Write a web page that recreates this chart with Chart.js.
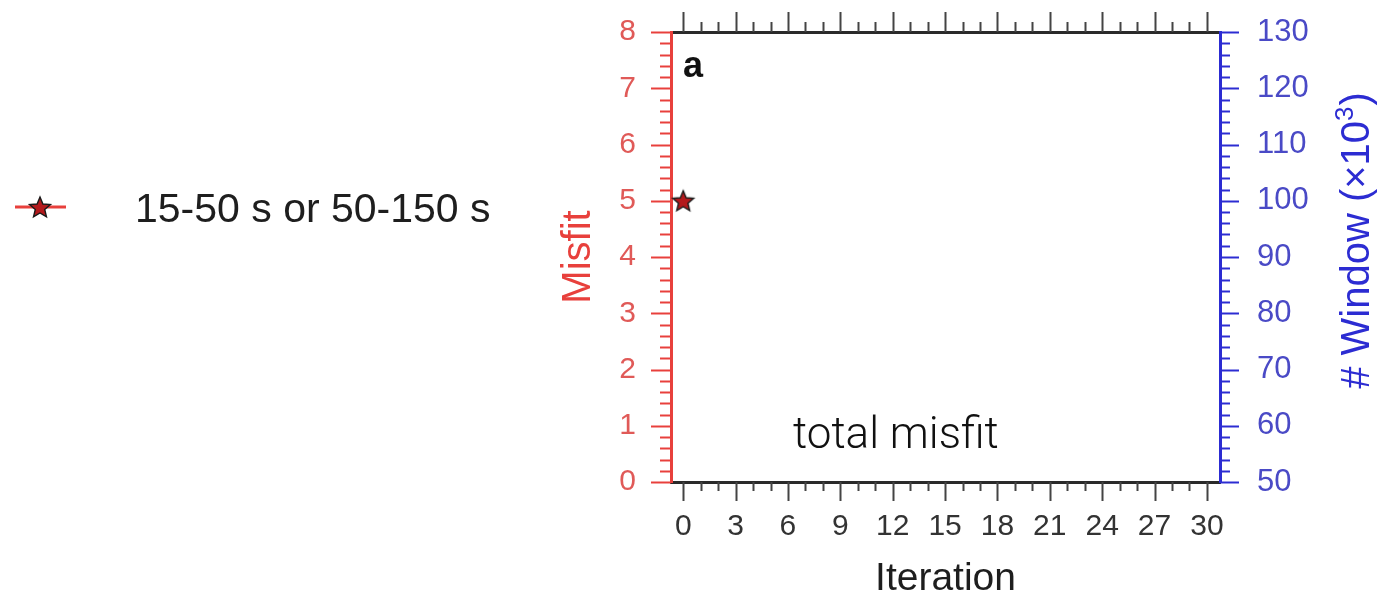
<!DOCTYPE html>
<html>
<head>
<meta charset="utf-8">
<script src="https://cdn.jsdelivr.net/npm/chart.js@4.4.0/dist/chart.umd.min.js"></script>
<style>
  body { margin: 0; background: #ffffff; }
  #wrap { width: 1386px; height: 615px; }
</style>
</head>
<body>
<div id="wrap"><canvas id="misfit-chart" width="1386" height="615"></canvas></div>
<script>
// misfit per iteration (only the starting model so far)
let iterations = [0];
let misfit = [5];
let seriesLabel = "15-50 s or 50-150 s";

let iterTicks = [0, 3, 6, 9, 12, 15, 18, 21, 24, 27, 30];
let misfitTicks = [0, 1, 2, 3, 4, 5, 6, 7, 8];
let windowTicks = [50, 60, 70, 80, 90, 100, 110, 120, 130];

const FONT = "'Liberation Sans', Arial, Helvetica, sans-serif";
const RED = "#e8403c";
const RED_TEXT = "#e05a58";
const BLUE = "#2c2cd2";
const BLUE_TEXT = "#4a4ac6";
const INK = "#2a2a2a";

// filled five point star used as the point marker
function makeStar(size) {
  let c = document.createElement("canvas");
  c.width = size;
  c.height = size;
  let ctx = c.getContext("2d");
  let cx = size / 2, cy = size / 2 + 1;
  let r = size / 2 - 2, r2 = r * 0.45;
  ctx.beginPath();
  for (let i = 0; i < 10; i++) {
    let a = -Math.PI / 2 + (i * Math.PI) / 5;
    let rr = i % 2 ? r2 : r;
    ctx.lineTo(cx + rr * Math.cos(a), cy + rr * Math.sin(a));
  }
  ctx.closePath();
  ctx.fillStyle = "#b3191c";
  ctx.fill();
  ctx.lineWidth = 1.4;
  ctx.strokeStyle = "#1a1a1a";
  ctx.stroke();
  return c;
}
let star = makeStar(26);

let setTicks = (values) => (scale) => {
  scale.ticks = values.map((v) => ({ value: v }));
};

// fixed box size, and no extra room reserved for the end labels
let fitTo = (w, h) => (s) => {
  if (w !== null) s.width = w;
  if (h !== null) s.height = h;
  s.paddingTop = 0;
  s.paddingBottom = 0;
  s.paddingLeft = 0;
  s.paddingRight = 0;
};

// tick marks (major + minor) drawn off the scales, plus the panel texts and legend
const decorations = {
  id: "decorations",
  afterDraw(chart) {
    const ctx = chart.ctx;
    const area = chart.chartArea;
    const sx = chart.scales.x;
    const sy = chart.scales.y;
    const sy2 = chart.scales.y2;
    ctx.save();
    ctx.lineWidth = 2;

    // bottom and top iteration ticks
    for (let v = 0; v <= 30; v++) {
      let px = Math.round(sx.getPixelForValue(v)) + 0.5;
      let len = v % 3 === 0 ? 19 : 9;
      ctx.strokeStyle = "#444";
      ctx.beginPath();
      ctx.moveTo(px, area.bottom);
      ctx.lineTo(px, area.bottom + len);
      ctx.moveTo(px, area.top);
      ctx.lineTo(px, area.top - len - 1);
      ctx.stroke();
    }
    // misfit ticks
    ctx.strokeStyle = RED;
    for (let i = 0; i <= 40; i++) {
      let v = i / 5;
      let py = Math.round(sy.getPixelForValue(v)) + 0.5;
      let len = i % 5 === 0 ? 20 : 11;
      ctx.beginPath();
      ctx.moveTo(area.left, py);
      ctx.lineTo(area.left - len, py);
      ctx.stroke();
    }
    // window count ticks
    ctx.strokeStyle = BLUE;
    for (let v = 50; v <= 130; v += 2) {
      let py = Math.round(sy2.getPixelForValue(v)) + 0.5;
      let len = v % 10 === 0 ? 19 : 10;
      ctx.beginPath();
      ctx.moveTo(area.right, py);
      ctx.lineTo(area.right + len, py);
      ctx.stroke();
    }

    // panel letter and caption
    ctx.fillStyle = "#111";
    ctx.textBaseline = "alphabetic";
    ctx.textAlign = "left";
    ctx.font = "bold 36px " + FONT;
    ctx.fillText("a", area.left + 12, area.top + 45);
    ctx.font = "300 44px Roboto, " + FONT;
    ctx.fillText("total misfit", area.left + 122, area.bottom - 34);

    // right axis title, reading upwards, with superscript
    ctx.save();
    ctx.translate(1355, 241);
    ctx.rotate(-Math.PI / 2);
    ctx.fillStyle = BLUE;
    let main = "# Window (\u00d710";
    ctx.font = "40px " + FONT;
    let w1 = ctx.measureText(main).width;
    let w3 = ctx.measureText(")").width;
    ctx.font = "26px " + FONT;
    let w2 = ctx.measureText("3").width;
    let x0 = -(w1 + w2 + w3) / 2;
    ctx.font = "40px " + FONT;
    ctx.fillText(main, x0, 14);
    ctx.fillText(")", x0 + w1 + w2 + 1, 14);
    ctx.font = "26px " + FONT;
    ctx.fillText("3", x0 + w1, -2);
    ctx.restore();

    // legend entry: line with the marker, then the label
    const ds = chart.data.datasets[0];
    ctx.strokeStyle = ds.borderColor;
    ctx.lineWidth = 3;
    ctx.beginPath();
    ctx.moveTo(15, 207);
    ctx.lineTo(66, 207);
    ctx.stroke();
    ctx.drawImage(ds.pointStyle, 40 - star.width / 2, 207 - star.height / 2);
    ctx.fillStyle = "#1e1e1e";
    ctx.font = "41px " + FONT;
    ctx.fillText(ds.label, 135, 222);

    ctx.restore();
  },
};

new Chart(document.getElementById("misfit-chart").getContext("2d"), {
  type: "line",
  data: {
    datasets: [
      {
        label: seriesLabel,
        data: iterations.map((it, i) => ({ x: it, y: misfit[i] })),
        borderColor: RED,
        backgroundColor: "#b3191c",
        borderWidth: 3,
        pointStyle: star,
        pointRadius: 13,
        xAxisID: "x",
        yAxisID: "y",
      },
    ],
  },
  options: {
    responsive: false,
    animation: false,
    layout: { padding: { left: 555, right: 0, top: 0, bottom: 0 } },
    plugins: {
      legend: { display: false },
      tooltip: { enabled: false },
    },
    scales: {
      x: {
        type: "linear",
        position: "bottom",
        min: -0.7,
        max: 30.75,
        afterBuildTicks: setTicks(iterTicks),
        afterFit: fitTo(null, 133),
        grid: { display: false },
        border: { color: INK, width: 3 },
        ticks: { color: "#333", font: { family: FONT, size: 30 }, padding: 19, maxRotation: 0, autoSkip: false },
        title: { display: true, text: "Iteration", color: "#1e1e1e", font: { family: FONT, size: 39 }, padding: { top: 0, bottom: 12 } },
      },
      xTop: {
        type: "linear",
        position: "top",
        min: -0.7,
        max: 30.75,
        afterFit: fitTo(null, 32),
        grid: { display: false },
        border: { color: INK, width: 3 },
        ticks: { display: false },
      },
      y: {
        type: "linear",
        position: "left",
        min: 0,
        max: 8,
        afterBuildTicks: setTicks(misfitTicks),
        afterFit: fitTo(116, null),
        grid: { display: false },
        border: { color: RED, width: 3 },
        ticks: { color: RED_TEXT, font: { family: FONT, size: 30 }, padding: 27 },
        title: { display: true, text: "Misfit", color: RED, font: { family: FONT, size: 40 }, padding: { top: 0, bottom: 0 } },
      },
      y2: {
        type: "linear",
        position: "right",
        min: 50,
        max: 130,
        afterBuildTicks: setTicks(windowTicks),
        afterFit: fitTo(166, null),
        grid: { display: false },
        border: { color: BLUE, width: 3 },
        ticks: { color: BLUE_TEXT, font: { family: FONT, size: 31 }, padding: 29 },
      },
    },
  },
  plugins: [decorations],
});
</script>
</body>
</html>
